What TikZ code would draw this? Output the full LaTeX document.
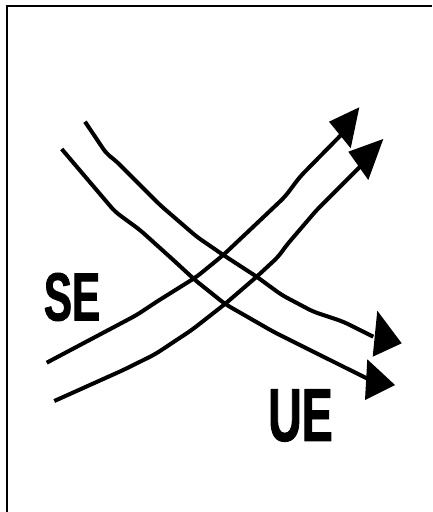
\documentclass[tikz,border=0pt]{standalone}
\usepackage{fontspec}
\newfontfamily\lblfont{Liberation Sans}[FakeStretch=0.62,FakeBold=1.2]
\begin{document}
\begin{tikzpicture}[x=1pt,y=-1pt,
  flow/.style={line width=4pt, rounded corners=6pt, line join=round},
  head/.style={fill=black},
  lbl/.style={inner sep=0pt, font=\lblfont\bfseries}]
\useasboundingbox (0,0) rectangle (432,512);
\draw[line width=1.2pt] (7,512) -- (7,6) -- (432,6);
% SE arrows
\draw[flow] (46.7,362.7) -- (136.7,315) -- (156.7,301.7) -- (196.7,276.7) -- (223.3,255) -- (253,227) -- (285,196.7) -- (300,176.7) -- (343,133);
\fill[head] (359.3,107.3) -- (329,121.7) -- (350.7,148.3) -- cycle;
\draw[flow] (54.3,401) -- (123.3,370) -- (155,354.3) -- (191.7,330) -- (225,304) -- (256.7,276.7) -- (278.3,256.7) -- (286.7,245) -- (316.7,210) -- (361.7,165);
\fill[head] (383.3,139) -- (348.3,151.7) -- (368.3,180) -- cycle;
% UE arrows
\draw[flow] (85,121.7) -- (106.7,154) -- (115,160) -- (160,205) -- (196.7,236.7) -- (223.3,255) -- (256.7,276.7) -- (281.7,295) -- (313.3,311.7) -- (343.3,321.7) -- (373.3,336.7);
\fill[head] (401.7,343.3) -- (377.3,310.7) -- (372.7,356.7) -- cycle;
\draw[flow] (61.7,149) -- (115,211.7) -- (140,230) -- (173.3,260) -- (195,280) -- (225,304) -- (273.3,331.7) -- (303.3,346.7) -- (366.7,378.3);
\fill[head] (395,385) -- (367.3,359.3) -- (365,400) -- cycle;
% labels
\node[lbl, font=\lblfont\bfseries\fontsize{68}{68}\selectfont] (se) at (72,297) {SE};
\node[lbl, font=\lblfont\bfseries\fontsize{75}{75}\selectfont] (ue) at (300.5,415.5) {UE};
\end{tikzpicture}
\end{document}
